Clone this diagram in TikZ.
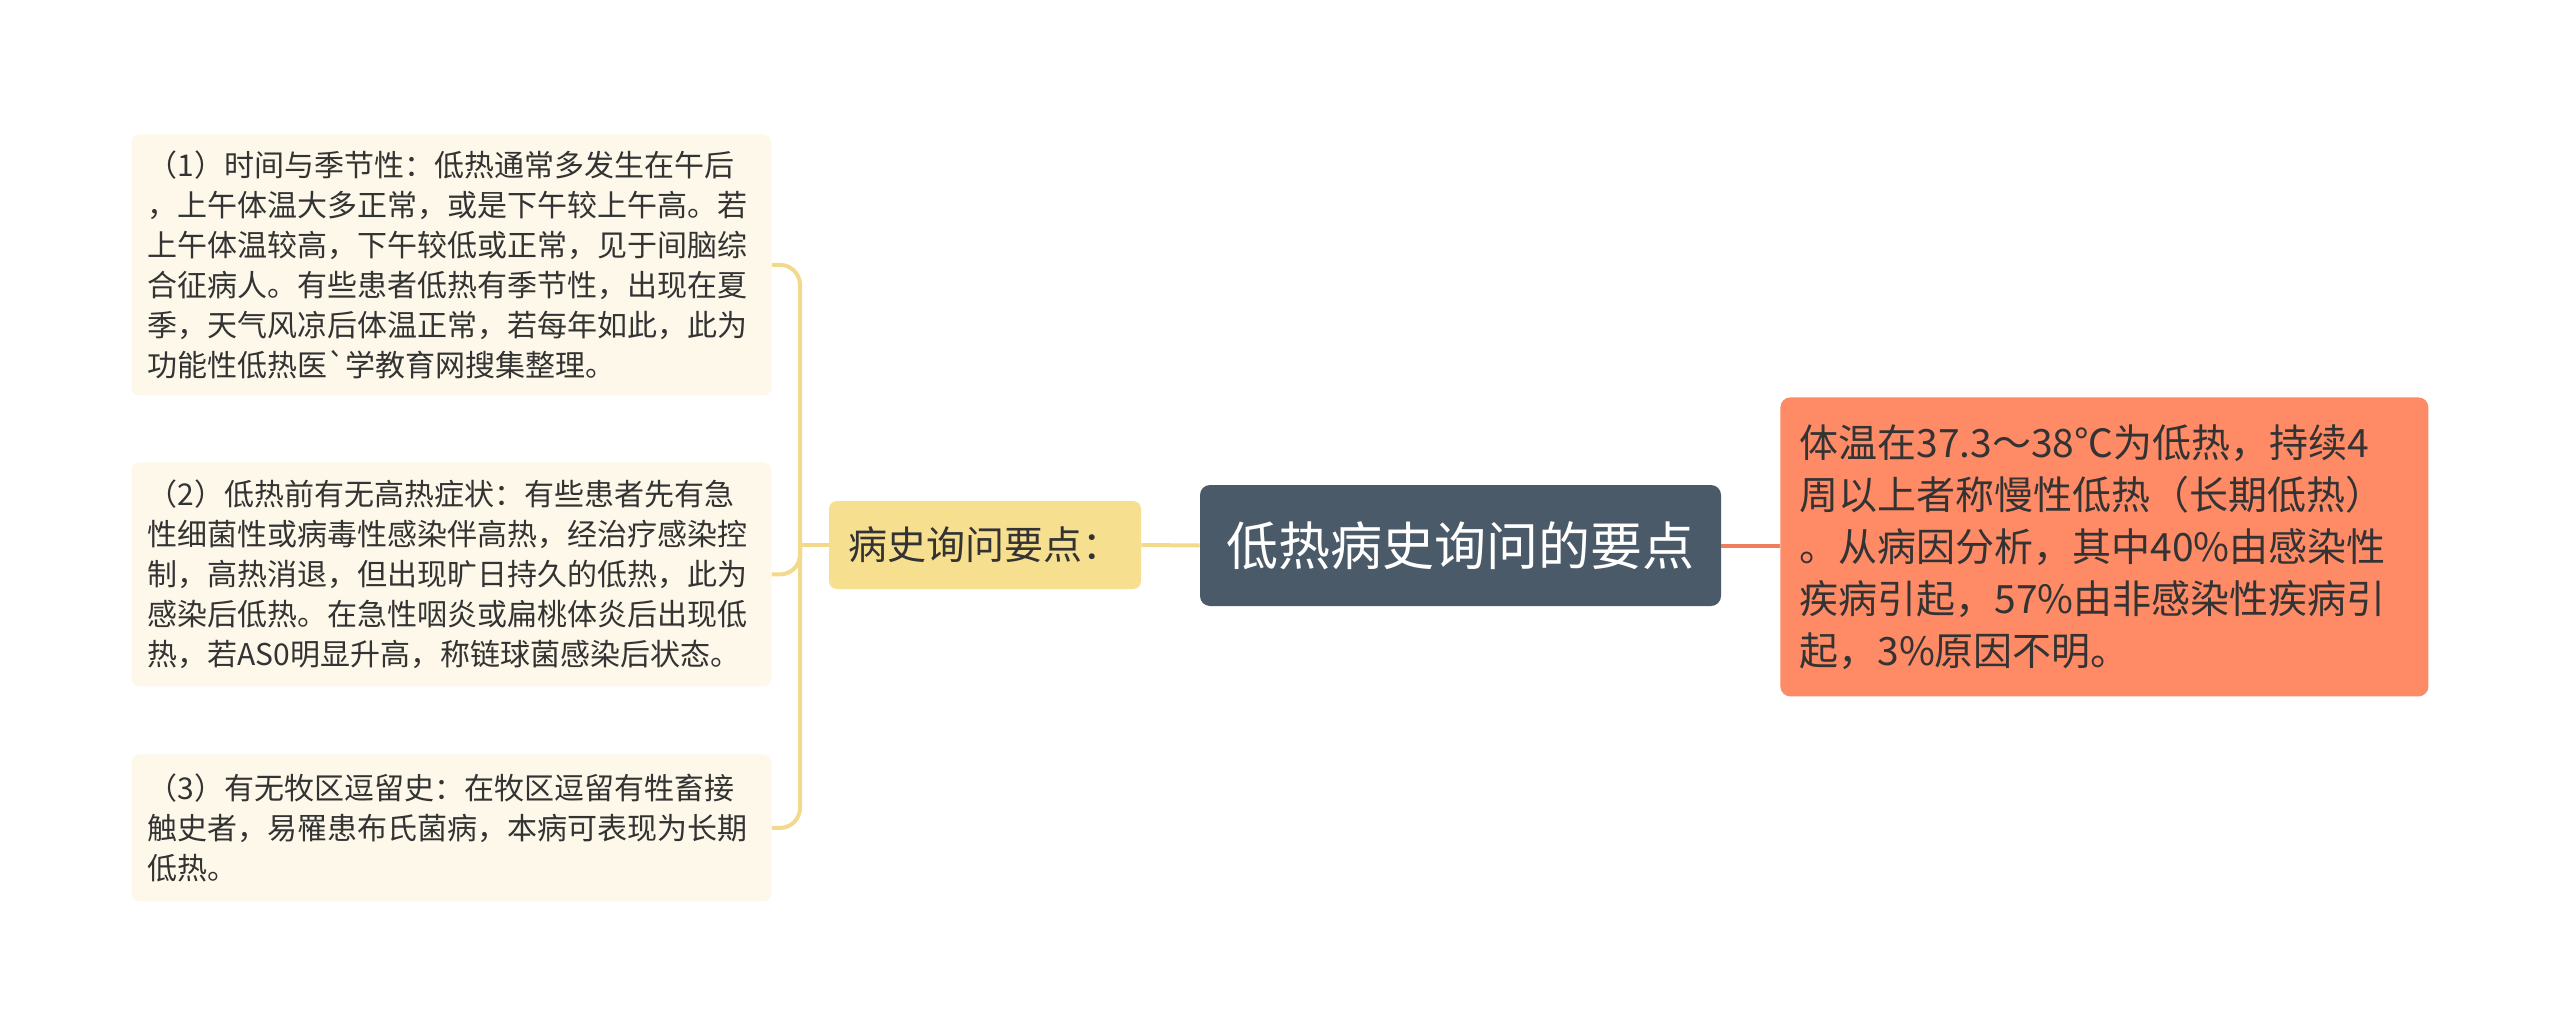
\documentclass[tikz,border=0pt]{standalone}
\usepackage{fontspec}
\setmainfont{Noto Sans CJK SC}
\definecolor{leaffill}{HTML}{FDF8E9}
\definecolor{yelfill}{HTML}{F7DF90}
\definecolor{cenfill}{HTML}{4A5A69}
\definecolor{rtfill}{HTML}{FE8A66}
\definecolor{yelline}{HTML}{F3D98C}
\definecolor{orline}{HTML}{F07E5C}
\definecolor{textdark}{HTML}{333333}
\begin{document}
\begin{tikzpicture}[x=0.5pt,y=-0.5pt,
  leaf/.style={fill=leaffill, rounded corners=4pt, anchor=north west, inner xsep=8pt, inner ysep=0pt,
    text width=304pt, align=left, font=\fontsize{15pt}{20pt}\selectfont, text=textdark},
  midbox/.style={fill=yelfill, rounded corners=4pt, minimum width=156pt, minimum height=44pt, inner sep=0pt,
    font=\fontsize{19.5pt}{24pt}\selectfont, text=textdark},
  rootbox/.style={fill=cenfill, rounded corners=5pt, minimum width=260.5pt, minimum height=60.5pt, inner sep=0pt,
    font=\fontsize{26pt}{30pt}\selectfont, text=white},
  rightbox/.style={fill=rtfill, rounded corners=5pt, anchor=north west, inner xsep=9.5pt, inner ysep=0pt,
    text width=305pt, align=left, minimum height=149.5pt, font=\fontsize{19.5pt}{26pt}\selectfont, text=textdark},
  yconn/.style={draw=yelline, line width=2pt},
  oconn/.style={draw=orline, line width=2pt}
]
\useasboundingbox[fill=white] (0,0) rectangle (2560,1033);

\node[leaf, minimum height=130.5pt] (b1) at (131,134) {（1）时间与季节性：低热通常多发生在午后\\，上午体温大多正常，或是下午较上午高。若\\上午体温较高，下午较低或正常，见于间脑综\\合征病人。有些患者低热有季节性，出现在夏\\季，天气风凉后体温正常，若每年如此，此为\\功能性低热医\textasciigrave 学教育网搜集整理。};
\node[leaf, minimum height=112pt] (b2) at (131,462) {（2）低热前有无高热症状：有些患者先有急\\性细菌性或病毒性感染伴高热，经治疗感染控\\制，高热消退，但出现旷日持久的低热，此为\\感染后低热。在急性咽炎或扁桃体炎后出现低\\热，若AS0明显升高，称链球菌感染后状态。};
\node[leaf, minimum height=73.5pt] (b3) at (131,754) {（3）有无牧区逗留史：在牧区逗留有牲畜接\\触史者，易罹患布氏菌病，本病可表现为长期\\低热。};

\node[midbox] (mid) at (985,545) {病史询问要点：};
\node[rootbox] (root) at (1460.5,545.5) {低热病史询问的要点};
\node[rightbox] (rt) at (1780,397) {体温在37.3～38℃为低热，持续4\\周以上者称慢性低热（长期低热）\\。从病因分析，其中40\%由感染性\\疾病引起，57\%由非感染性疾病引\\起，3\%原因不明。};

\coordinate (jn) at (800,545);
\draw[yconn] (root.west) -- (mid.east);
\draw[yconn] (mid.west) -- (jn);
\draw[yconn, rounded corners=10pt] (jn) |- (b1.east);
\draw[yconn, rounded corners=10pt] (jn) |- (b2.east);
\draw[yconn, rounded corners=10pt] (jn) |- (b3.east);
\draw[oconn] (root.east) -- (rt.west |- root.east);
\end{tikzpicture}
\end{document}
